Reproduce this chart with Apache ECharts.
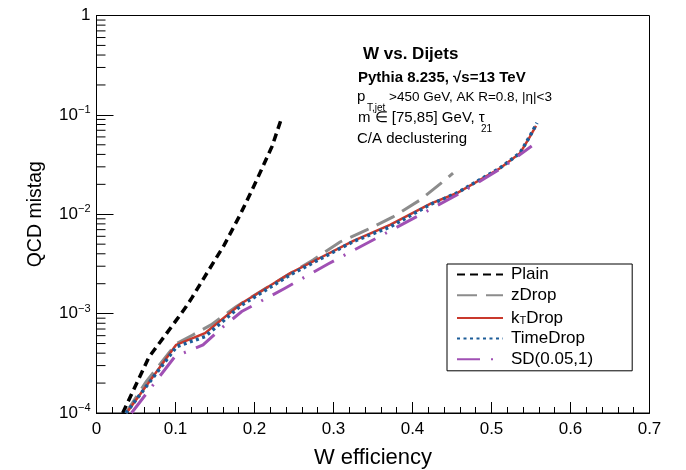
<!DOCTYPE html>
<html>
<head>
<meta charset="utf-8">
<script src="https://cdn.jsdelivr.net/npm/echarts@6/dist/echarts.min.js"></script>
<style>html,body{margin:0;padding:0;background:#fff}#c{width:686px;height:470px}</style>
</head>
<body>
<div id="c"></div>
<script>
// ---- data (x = W efficiency, y = QCD mistag) ----
const seriesNames = ['Plain', 'zDrop', 'kTDrop', 'TimeDrop', 'SD(0.05,1)'];
const plain = [[0.0332,1.0e-4],[0.0665,3.67e-4],[0.0804,5.15e-4],[0.1006,8.5e-4],[0.1133,1.17e-3],[0.1209,1.45e-3],[0.1411,2.66e-3],[0.1614,4.86e-3],[0.1816,9.8e-3],[0.2019,0.0213],[0.2222,0.0482],[0.2335,0.0889]];
const zDrop = [[0.0373,1.0e-4],[0.0627,2.06e-4],[0.1006,4.95e-4],[0.1218,6.1e-4],[0.1449,7.7e-4],[0.1766,1.17e-3],[0.2108,1.73e-3],[0.2361,2.29e-3],[0.2741,3.47e-3],[0.3082,5.26e-3],[0.342,6.95e-3],[0.3753,9.4e-3],[0.4095,0.0139],[0.4411,0.0221],[0.4513,0.026]];
const ktDrop = [[0.038,1.0e-4],[0.1006,4.84e-4],[0.1373,6.35e-4],[0.1838,1.27e-3],[0.2449,2.55e-3],[0.3251,5.4e-3],[0.3715,7.8e-3],[0.4222,0.0127],[0.4559,0.01626],[0.5108,0.029],[0.5361,0.0411],[0.5487,0.0604],[0.5563,0.0773]];
const timeDrop = [[0.0373,1.0e-4],[0.1015,4.66e-4],[0.1373,5.87e-4],[0.1838,1.22e-3],[0.2449,2.45e-3],[0.3247,5.3e-3],[0.3715,7.45e-3],[0.4222,0.0125],[0.4563,0.01637],[0.5108,0.0292],[0.5361,0.0414],[0.5487,0.0613],[0.5576,0.083]];
const sdDrop = [[0.0443,1.0e-4],[0.0994,3.71e-4],[0.1348,4.84e-4],[0.1601,7.35e-4],[0.1838,1.05e-3],[0.2108,1.37e-3],[0.2386,1.8e-3],[0.293,3.16e-3],[0.35,5.51e-3],[0.4053,9.46e-3],[0.4601,0.01626],[0.5146,0.0297],[0.5509,0.0487]];
const xTicks = [0, 0.7, 0.1];           // min, max, interval
const yRange = [1e-4, 1];
const yMinorTicks = [];
for (let e = -4; e < 0; e++) for (let m = 2; m <= 9; m++) yMinorTicks.push([0, m * Math.pow(10, e)]);

const FONT = '"Liberation Sans", Arial, Helvetica, sans-serif';
const chart = echarts.init(document.getElementById('c'), null, {renderer: 'canvas'});

function line(name, data, color, width, type, z) {
  return {
    name, type: 'line', data, symbol: 'none', smooth: false, z,
    lineStyle: {color, width, type, cap: 'butt', join: 'miter'},
    itemStyle: {color}, animation: false
  };
}

const option = {
  backgroundColor: '#fff',
  animation: false,
  textStyle: {fontFamily: FONT},
  grid: {left: 96.5, right: 36.5, top: 15.5, bottom: 57, show: true, borderColor: '#000', borderWidth: 1,
         backgroundColor: 'transparent', containLabel: false, outerBoundsMode: 'none'},
  xAxis: {
    type: 'value', min: xTicks[0], max: xTicks[1], interval: xTicks[2],
    name: 'W efficiency', nameLocation: 'middle', nameGap: 34,
    nameTextStyle: {fontSize: 22, color: '#000', fontFamily: FONT},
    axisLine: {lineStyle: {color: '#000', width: 1}},
    axisTick: {inside: true, length: 11, lineStyle: {color: '#000'}},
    minorTick: {show: true, splitNumber: 5, length: 6, lineStyle: {color: '#000'}},
    splitLine: {show: false},
    axisLabel: {fontSize: 17, color: '#000', margin: 8, fontFamily: FONT, formatter: v => String(Math.round(v * 10) / 10)}
  },
  yAxis: {
    type: 'log', logBase: 10, min: yRange[0], max: yRange[1],
    name: 'QCD mistag', nameLocation: 'middle', nameGap: 51, nameRotate: 90,
    nameTextStyle: {fontSize: 19.5, color: '#000', fontFamily: FONT},
    axisLine: {lineStyle: {color: '#000', width: 1}},
    axisTick: {inside: true, length: 17, lineStyle: {color: '#000'}},
    splitLine: {show: false},
    axisLabel: {
      color: '#000', margin: 6, fontFamily: FONT,
      formatter: v => {
        const e = Math.round(Math.log10(v));
        return e === 0 ? '{b|1}' : '{b|10}{s|\u2212' + (-e) + '}';
      },
      rich: {
        b: {fontSize: 17, color: '#000', fontFamily: FONT},
        s: {fontSize: 11, color: '#000', fontFamily: FONT, padding: [0, 0, 10, 0]}
      }
    }
  },
  legend: {
    orient: 'vertical', left: 447, top: 264,
    data: seriesNames,
    backgroundColor: '#fff', borderColor: '#000', borderWidth: 1,
    padding: [2, 39, 3, 9],
    itemWidth: 46, itemHeight: 20, itemGap: 3.7,
    itemStyle: {color: 'transparent', borderWidth: 0, opacity: 0},
    textStyle: {fontSize: 17, color: '#000', fontFamily: FONT, padding: [0, 0, 0, 3],
      rich: {t: {fontSize: 17, color: '#000', fontFamily: FONT, padding: [0, 0, 0, 0]},
             sub: {fontSize: 11, lineHeight: 11, color: '#000', fontFamily: FONT, padding: [8, 0, 0, 0], verticalAlign: 'bottom'}}},
    formatter: n => n === 'kTDrop' ? '{t|k}{sub|T}{t|Drop}' : n
  },
  graphic: [
    {type: 'text', left: 363, top: 46, style: {text: 'W vs. Dijets', font: 'bold 17px ' + FONT, fill: '#000'}},
    {type: 'text', left: 358, top: 70, style: {text: 'Pythia 8.235, \u221As=13 TeV', font: 'bold 15px ' + FONT, fill: '#000'}},
    {type: 'text', left: 357, top: 89, style: {text: 'p', font: '15px ' + FONT, fill: '#000'}},
    {type: 'text', left: 367, top: 103, style: {text: 'T,jet', font: '10px ' + FONT, fill: '#000'}},
    {type: 'text', left: 389, top: 90, style: {text: '>450 GeV, AK R=0.8, |\u03B7|<3', font: '13.5px ' + FONT, fill: '#000'}},
    {type: 'text', left: 358, top: 110, style: {text: 'm \u2208 [75,85] GeV, \u03C4', font: '15px ' + FONT, fill: '#000'}},
    {type: 'text', left: 481, top: 124, style: {text: '21', font: '10px ' + FONT, fill: '#000'}},
    {type: 'text', left: 357, top: 131, style: {text: 'C/A declustering', font: '15px ' + FONT, fill: '#000'}}
  ],
  series: [
    {
      type: 'custom', name: 'yMinor', data: yMinorTicks, silent: true, z: 1, clip: false,
      encode: {x: 0, y: 1},
      renderItem: (params, api) => {
        const p = api.coord([api.value(0), api.value(1)]);
        return {type: 'line', shape: {x1: p[0], y1: p[1], x2: p[0] + 9, y2: p[1]}, style: {stroke: '#000', lineWidth: 1}};
      }
    },
    line('Plain', plain, '#000000', 3.5, [8, 5], 2),
    line('zDrop', zDrop, '#8c8c8c', 3, [20, 9], 3),
    line('kTDrop', ktDrop, '#c9392c', 2.5, 'solid', 4),
    line('TimeDrop', timeDrop, '#1c5c98', 3.5, [3, 3.5], 5),
    line('SD(0.05,1)', sdDrop, '#a050b4', 3, [23, 11, 2, 11], 6)
  ]
};
chart.setOption(option);
</script>
</body>
</html>
